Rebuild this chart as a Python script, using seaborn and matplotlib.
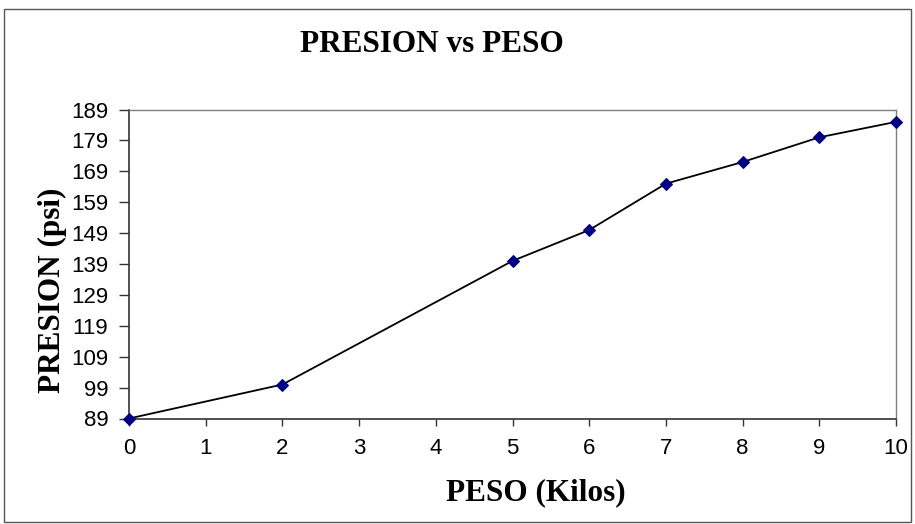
import matplotlib
matplotlib.use("Agg")
import matplotlib.pyplot as plt
import seaborn as sns
import pandas as pd
from matplotlib.patches import Rectangle

peso = [0, 2, 5, 6, 7, 8, 9, 10]
presion = [89, 100, 140, 150, 165, 172, 180, 185]
yticks = [89, 99, 109, 119, 129, 139, 149, 159, 169, 179, 189]
xticks = list(range(0, 11))

sns.set_style("white")
plt.rcParams['font.family'] = ['Liberation Sans', 'DejaVu Sans']
plt.rcParams['text.color'] = 'black'
plt.rcParams['xtick.color'] = 'black'
plt.rcParams['ytick.color'] = 'black'
plt.rcParams['axes.labelcolor'] = 'black'

df = pd.DataFrame({"peso": peso, "presion": presion})

fig = plt.figure(figsize=(9.15, 5.24), dpi=100)
ax = fig.add_axes([129/915, 1-418.5/524, (896-129)/915, (418.5-109.5)/524])

sns.lineplot(data=df, x="peso", y="presion", ax=ax, color="black", linewidth=1.3,
             marker="D", markersize=6.5, markerfacecolor="#000080",
             markeredgecolor="#000080", zorder=3, clip_on=False)

ax.set_xlim(0, 10)
ax.set_ylim(89, 189)
ax.set_xticks(xticks)
ax.set_yticks(yticks)
ax.tick_params(axis='y', direction='out', length=7, width=1, color='#333333',
               labelsize=16, labelcolor='black', pad=8, left=True)
ax.tick_params(axis='x', direction='out', length=5, width=1, color='#333333',
               labelsize=16, labelcolor='black', pad=9, bottom=True)
for s in ['left', 'bottom']:
    ax.spines[s].set_color('#333333')
    ax.spines[s].set_linewidth(1.2)
for s in ['top', 'right']:
    ax.spines[s].set_color('#808080')
    ax.spines[s].set_linewidth(1)

serif = ['Liberation Serif', 'DejaVu Serif']
ax.set_xlabel("")
ax.set_ylabel("")
fig.text(536/915, 1-493/524, "PESO (Kilos)", fontsize=22.5, fontweight='bold',
         family=serif, ha='center', va='center', color='black')
fig.text(52/915, 1-290/524, "PRESION (psi)", fontsize=22.5, fontweight='bold',
         family=serif, ha='center', va='center', rotation=90, color='black')
fig.text(432/915, 1-45/524, "PRESION vs PESO", fontsize=22.5, fontweight='bold',
         family=serif, ha='center', va='center', color='black')

fig.patches.append(Rectangle((4/915, 2/524), 907/915, 1-(11/524), transform=fig.transFigure,
                             fill=False, edgecolor='#555555', linewidth=1))

fig.savefig("out.png", dpi=100)
